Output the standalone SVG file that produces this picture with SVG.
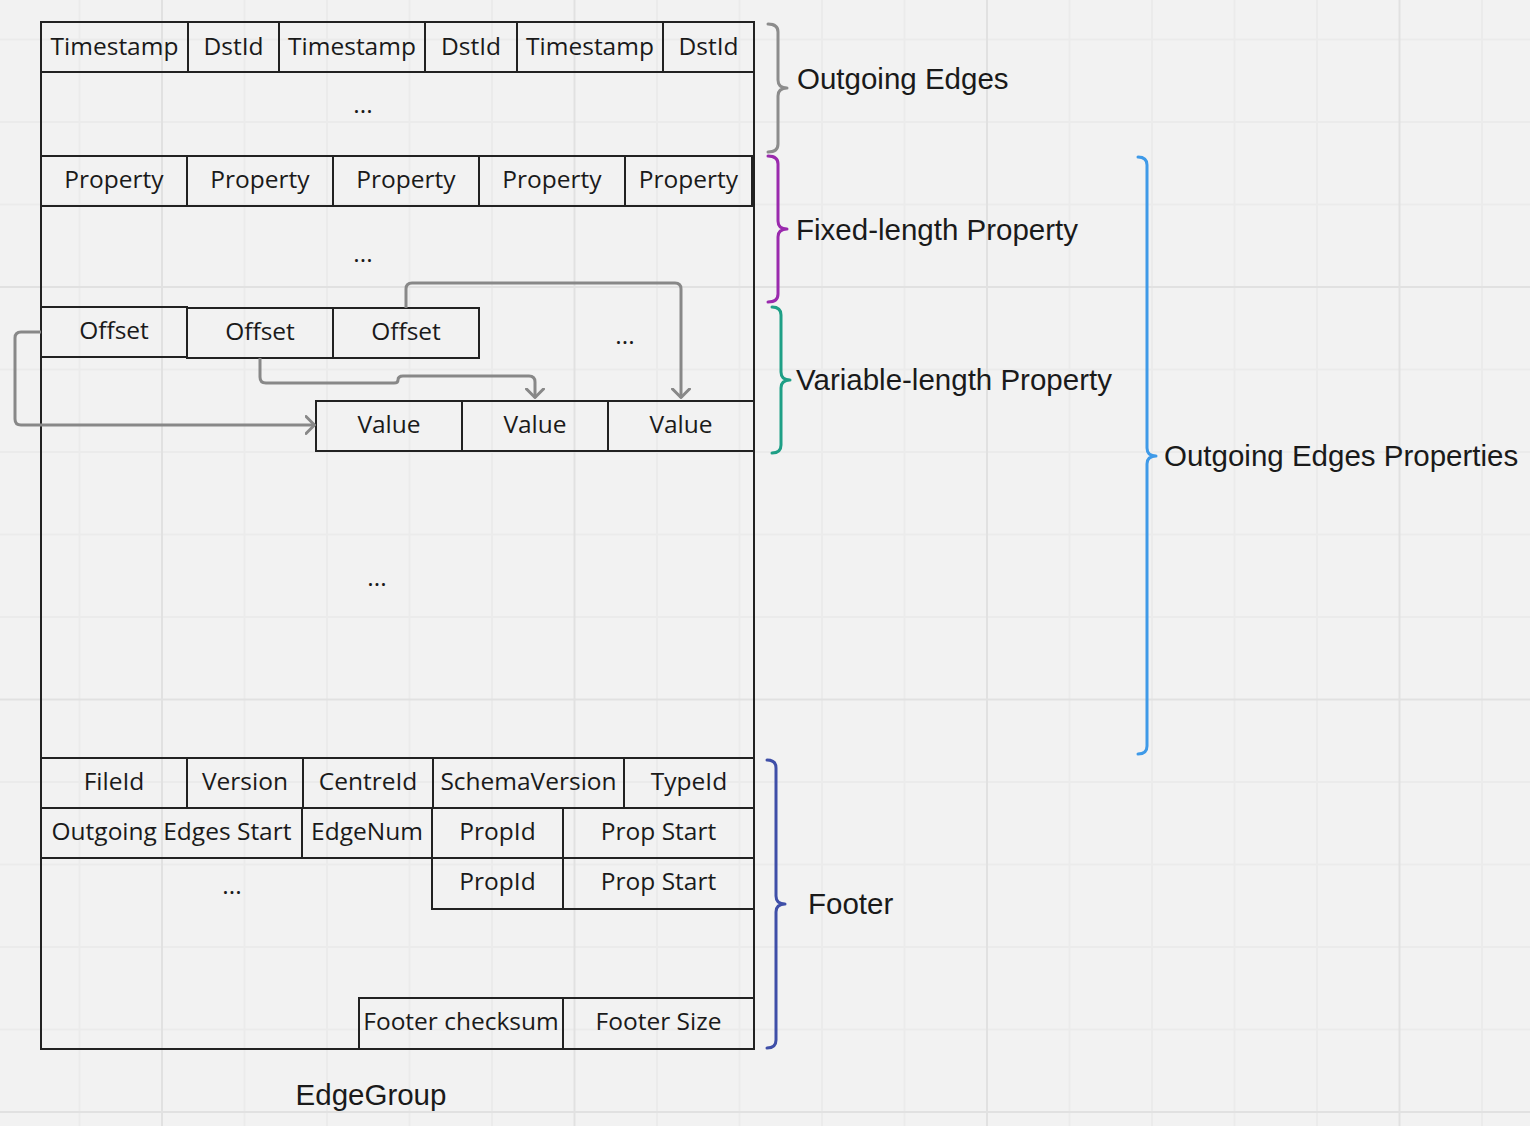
<svg xmlns="http://www.w3.org/2000/svg" width="1530" height="1126" viewBox="0 0 1530 1126">
<defs>
<style>
.bg{fill:#f2f2f2}
.gmin{stroke:#ebebeb;stroke-width:2;fill:none}
.gmaj{stroke:#e1e1e1;stroke-width:2;fill:none}
.cell{fill:none;stroke:#222;stroke-width:2}
.ct{font-family:"Open Sans","Noto Sans",sans-serif;font-size:24.5px;fill:#1a1a1a;text-anchor:middle}
.lbl{font-family:"Liberation Sans",Arial,sans-serif;font-size:29.5px;fill:#1a1a1a}
.br{fill:none;stroke-width:3;stroke-linecap:round;stroke-linejoin:round}
.conn{fill:none;stroke:#888;stroke-width:3;stroke-linejoin:round}
</style>
<marker id="arr" viewBox="0 0 12 20" refX="10.5" refY="10" markerWidth="12" markerHeight="20" markerUnits="userSpaceOnUse" orient="auto">
<path d="M1.5,1.5 L10,10 L1.5,18.5" fill="none" stroke="#888" stroke-width="3" stroke-linecap="round" stroke-linejoin="round"/>
</marker>
</defs>
<rect class="bg" x="0" y="0" width="1530" height="1126"/>
<g id="grid">
<path class="gmin" d="M79.5 0V1126 M244.5 0V1126 M327 0V1126 M409.5 0V1126 M492 0V1126 M657 0V1126 M739.5 0V1126 M822 0V1126 M904.5 0V1126 M1069.5 0V1126 M1152 0V1126 M1234.5 0V1126 M1317 0V1126 M1482 0V1126 M0 39.5H1530 M0 122H1530 M0 204.5H1530 M0 369.5H1530 M0 452H1530 M0 534.5H1530 M0 617H1530 M0 782H1530 M0 864.5H1530 M0 947H1530 M0 1029.5H1530"/>
<path class="gmaj" d="M162 0V1126 M574.5 0V1126 M987 0V1126 M1399.5 0V1126 M0 287H1530 M0 699.5H1530 M0 1112H1530"/>
</g>

<g id="edgegroup">
<rect class="cell" x="41" y="22" width="713" height="1027"/>
</g>

<g id="outgoing-edges-row">
<rect class="cell" x="41" y="22" width="147" height="50"/><text class="ct" x="114.5" y="54.5">Timestamp</text>
<rect class="cell" x="188" y="22" width="91" height="50"/><text class="ct" x="233.5" y="54.5">DstId</text>
<rect class="cell" x="279" y="22" width="146" height="50"/><text class="ct" x="352" y="54.5">Timestamp</text>
<rect class="cell" x="425" y="22" width="92" height="50"/><text class="ct" x="471" y="54.5">DstId</text>
<rect class="cell" x="517" y="22" width="146" height="50"/><text class="ct" x="590" y="54.5">Timestamp</text>
<rect class="cell" x="663" y="22" width="91" height="50"/><text class="ct" x="708.5" y="54.5">DstId</text>
<text class="ct" x="363" y="113">...</text>
</g>

<g id="fixed-property-row">
<rect class="cell" x="41" y="156" width="146" height="50"/><text class="ct" x="114" y="187.5">Property</text>
<rect class="cell" x="187" y="156" width="146" height="50"/><text class="ct" x="260" y="187.5">Property</text>
<rect class="cell" x="333" y="156" width="146" height="50"/><text class="ct" x="406" y="187.5">Property</text>
<rect class="cell" x="479" y="156" width="146" height="50"/><text class="ct" x="552" y="187.5">Property</text>
<rect class="cell" x="625" y="156" width="127" height="50"/><text class="ct" x="688.5" y="187.5">Property</text>
<text class="ct" x="363" y="262">...</text>
</g>

<g id="offset-row">
<rect class="cell" x="41" y="307" width="146" height="50"/><text class="ct" x="114" y="338.5">Offset</text>
<rect class="cell" x="187" y="308" width="146" height="50"/><text class="ct" x="260" y="339.5">Offset</text>
<rect class="cell" x="333" y="308" width="146" height="50"/><text class="ct" x="406" y="339.5">Offset</text>
<text class="ct" x="625" y="344">...</text>
</g>

<g id="value-row">
<rect class="cell" x="316" y="401" width="146" height="50"/><text class="ct" x="389" y="432.5">Value</text>
<rect class="cell" x="462" y="401" width="146" height="50"/><text class="ct" x="535" y="432.5">Value</text>
<rect class="cell" x="608" y="401" width="146" height="50"/><text class="ct" x="681" y="432.5">Value</text>
<text class="ct" x="377" y="586">...</text>
</g>

<g id="footer-rows">
<rect class="cell" x="41" y="758" width="146" height="50"/><text class="ct" x="114" y="789.5">FileId</text>
<rect class="cell" x="187" y="758" width="116" height="50"/><text class="ct" x="245" y="789.5">Version</text>
<rect class="cell" x="303" y="758" width="130" height="50"/><text class="ct" x="368" y="789.5">CentreId</text>
<rect class="cell" x="433" y="758" width="191" height="50"/><text class="ct" x="528.5" y="789.5">SchemaVersion</text>
<rect class="cell" x="624" y="758" width="130" height="50"/><text class="ct" x="689" y="789.5">TypeId</text>
<rect class="cell" x="41" y="808" width="261" height="50"/><text class="ct" x="171.5" y="839.5">Outgoing Edges Start</text>
<rect class="cell" x="302" y="808" width="130" height="50"/><text class="ct" x="367" y="839.5">EdgeNum</text>
<rect class="cell" x="432" y="808" width="131" height="50"/><text class="ct" x="497.5" y="839.5">PropId</text>
<rect class="cell" x="563" y="808" width="191" height="50"/><text class="ct" x="658.5" y="839.5">Prop Start</text>
<rect class="cell" x="432" y="858" width="131" height="51"/><text class="ct" x="497.5" y="889.5">PropId</text>
<rect class="cell" x="563" y="858" width="191" height="51"/><text class="ct" x="658.5" y="889.5">Prop Start</text>
<text class="ct" x="232" y="894">...</text>
<rect class="cell" x="359" y="998" width="204" height="51"/><text class="ct" x="461" y="1029.5">Footer checksum</text>
<rect class="cell" x="563" y="998" width="191" height="51"/><text class="ct" x="658.5" y="1029.5">Footer Size</text>
</g>

<g id="connectors">
<path class="conn" marker-end="url(#arr)" d="M41 332 L21 332 Q15 332 15 338 L15 419 Q15 425 21 425 L315 425"/>
<path class="conn" marker-end="url(#arr)" d="M260 358 L260 377 Q260 383 266 383 L394 383 Q398 383 398 380 Q398 376 403 376 L529 376 Q535 376 535 382 L535 398"/>
<path class="conn" marker-end="url(#arr)" d="M406 308 L406 289 Q406 283 412 283 L675 283 Q681 283 681 289 L681 398"/>
</g>

<g id="brace-outgoing-edges">
<path class="br" stroke="#8c8c8c" d="M768 24 Q778 24 778 32 L778 80 Q778 88 787 88 Q778 88 778 96 L778 144 Q778 152 768 152"/>
<text class="lbl" x="797" y="89">Outgoing Edges</text>
</g>
<g id="brace-fixed-length">
<path class="br" stroke="#9a2aad" d="M768 156 Q778 156 778 164 L778 221 Q778 229 787 229 Q778 229 778 237 L778 294 Q778 302 768 302"/>
<text class="lbl" x="796" y="240">Fixed-length Property</text>
</g>
<g id="brace-variable-length">
<path class="br" stroke="#1e9f86" d="M772 307 Q781 307 781 315 L781 372 Q781 380 790 380 Q781 380 781 388 L781 445 Q781 453 772 453"/>
<text class="lbl" x="796" y="390">Variable-length Property</text>
</g>
<g id="brace-outgoing-edges-properties">
<path class="br" stroke="#3f9ae8" d="M1138 157 Q1147 157 1147 165 L1147 448 Q1147 456 1156 456 Q1147 456 1147 464 L1147 746 Q1147 754 1138 754"/>
<text class="lbl" x="1164" y="466">Outgoing Edges Properties</text>
</g>
<g id="brace-footer">
<path class="br" stroke="#3f4fa8" d="M767 760 Q776 760 776 768 L776 896 Q776 904 785 904 Q776 904 776 912 L776 1040 Q776 1048 767 1048"/>
<text class="lbl" x="808" y="914">Footer</text>
</g>
<g id="label-edgegroup">
<text class="lbl" x="371" y="1105" text-anchor="middle">EdgeGroup</text>
</g>
</svg>
